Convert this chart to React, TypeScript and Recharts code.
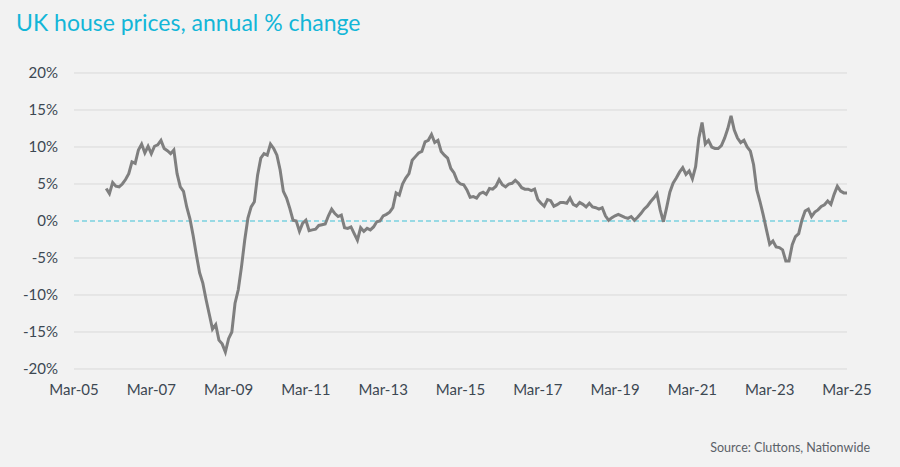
import React from "react";
import { LineChart, Line, XAxis, YAxis, ReferenceLine } from "recharts";

// Nationwide annual % change, monthly values (Jan..Dec) per calendar year
const y2006 = [4.4, 3.7, 5.2, 4.7, 4.6, 5.0, 5.6, 6.4, 8.0, 7.8, 9.6, 10.4];
const y2007 = [9.2, 10.1, 9.1, 10.1, 10.3, 10.9, 9.8, 9.5, 9.1, 9.6, 6.4, 4.6];
const y2008 = [4.0, 1.9, 0.3, -2.0, -4.6, -7.0, -8.4, -10.6, -12.6, -14.6, -14.0, -16.1];
const y2009 = [-16.6, -17.7, -15.9, -15.0, -11.1, -9.3, -6.2, -2.6, 0.4, 1.9, 2.6, 6.2];
const y2010 = [8.5, 9.1, 8.9, 10.4, 9.8, 8.9, 6.9, 4.0, 3.1, 1.7, 0.1, 0.0];
const y2011 = [-1.4, -0.3, 0.1, -1.3, -1.2, -1.1, -0.6, -0.5, -0.4, 0.7, 1.6, 1.0];
const y2012 = [0.6, 0.8, -0.9, -1.0, -0.8, -1.7, -2.6, -0.9, -1.4, -1.0, -1.2, -0.8];
const y2013 = [-0.1, 0.0, 0.7, 0.9, 1.2, 1.8, 3.8, 3.5, 5.0, 5.8, 6.4, 8.2];
const y2014 = [8.7, 9.2, 9.4, 10.7, 10.9, 11.7, 10.6, 10.9, 9.4, 8.9, 8.5, 7.1];
const y2015 = [6.5, 5.4, 5.0, 4.9, 4.2, 3.2, 3.3, 3.1, 3.7, 3.9, 3.6, 4.4];
const y2016 = [4.3, 4.7, 5.6, 4.9, 4.6, 5.0, 5.1, 5.5, 5.1, 4.5, 4.3, 4.3];
const y2017 = [4.1, 4.3, 2.9, 2.4, 2.0, 2.9, 2.75, 2.0, 2.2, 2.5, 2.5, 2.4];
const y2018 = [3.1, 2.25, 2.0, 2.5, 2.25, 1.9, 2.4, 1.9, 1.8, 1.6, 1.8, 0.7];
const y2019 = [0.1, 0.45, 0.7, 0.9, 0.7, 0.5, 0.35, 0.6, 0.1, 0.5, 1.0, 1.6];
const y2020 = [2.0, 2.6, 3.1, 3.7, 1.5, -0.1, 1.8, 3.9, 5.1, 5.8, 6.6, 7.2];
const y2021 = [6.3, 6.75, 5.7, 7.35, 11.2, 13.3, 10.4, 10.9, 10.0, 9.8, 9.8, 10.2];
const y2022 = [11.2, 12.5, 14.2, 12.3, 11.2, 10.6, 10.9, 10.0, 9.45, 7.6, 4.2, 2.6];
const y2023 = [0.8, -1.2, -3.15, -2.7, -3.5, -3.6, -3.9, -5.4, -5.4, -3.2, -2.1, -1.7];
const y2024 = [0.1, 1.35, 1.6, 0.6, 1.2, 1.5, 1.95, 2.2, 2.7, 2.25, 3.6, 4.7];
const y2025 = [4.05, 3.8, 3.8];

const years: [number, number[]][] = [
  [2006, y2006], [2007, y2007], [2008, y2008], [2009, y2009], [2010, y2010],
  [2011, y2011], [2012, y2012], [2013, y2013], [2014, y2014], [2015, y2015],
  [2016, y2016], [2017, y2017], [2018, y2018], [2019, y2019], [2020, y2020],
  [2021, y2021], [2022, y2022], [2023, y2023], [2024, y2024], [2025, y2025],
];

// x-axis: months elapsed since March 2005
const xTickLabels = ["Mar-05", "Mar-07", "Mar-09", "Mar-11", "Mar-13", "Mar-15", "Mar-17", "Mar-19", "Mar-21", "Mar-23", "Mar-25"];
const xTicks = xTickLabels.map((_, i) => i * 24);
const yTicks = [-20, -15, -10, -5, 0, 5, 10, 15, 20];

const data = years.flatMap(([year, vals]) =>
  vals.map((v, i) => ({ m: (year - 2005) * 12 + i - 2, v }))
);

const FONT = "Lato, 'Open Sans', sans-serif";
const TICK = { fill: "#3d4852", fontSize: 15, fontFamily: FONT };

export default function App() {
  return (
    <div style={{ position: "absolute", left: 0, top: 0, width: 900, height: 467, background: "#f2f2f2", overflow: "hidden" }}>
      <div style={{ position: "absolute", left: 16, top: 8, fontFamily: FONT, fontSize: 23, color: "#12b6d8", whiteSpace: "nowrap" }}>
        UK house prices, annual % change
      </div>
      <LineChart width={900} height={467} data={data} margin={{ top: 73, right: 53, bottom: 68, left: 14 }}>
        {yTicks.filter((t) => t !== 0).map((t) => (
          <ReferenceLine key={t} y={t} stroke="#d9d9d9" strokeWidth={1} ifOverflow="visible" />
        ))}
        <ReferenceLine y={0} stroke="#3fc1d6" strokeWidth={1} strokeDasharray="5 3" />
        <XAxis
          type="number"
          dataKey="m"
          domain={[0, 240]}
          ticks={xTicks}
          tickFormatter={(v: number) => xTickLabels[Math.round(v / 24)]}
          axisLine={false}
          tickLine={false}
          tickSize={0}
          tickMargin={15}
          height={30}
          tick={TICK}
          interval={0}
        />
        <YAxis
          type="number"
          domain={[-20, 20]}
          ticks={yTicks}
          tickFormatter={(v: number) => `${v}%`}
          axisLine={false}
          tickLine={false}
          tickSize={0}
          tickMargin={16}
          width={60}
          tick={TICK}
          interval={0}
        />
        <Line type="linear" dataKey="v" stroke="#7f7f7f" strokeWidth={3} dot={false} isAnimationActive={false} />
      </LineChart>
      <div style={{ position: "absolute", right: 30, top: 440, fontFamily: FONT, fontSize: 12.5, color: "#5b6168", whiteSpace: "nowrap" }}>
        Source: Cluttons, Nationwide
      </div>
    </div>
  );
}
